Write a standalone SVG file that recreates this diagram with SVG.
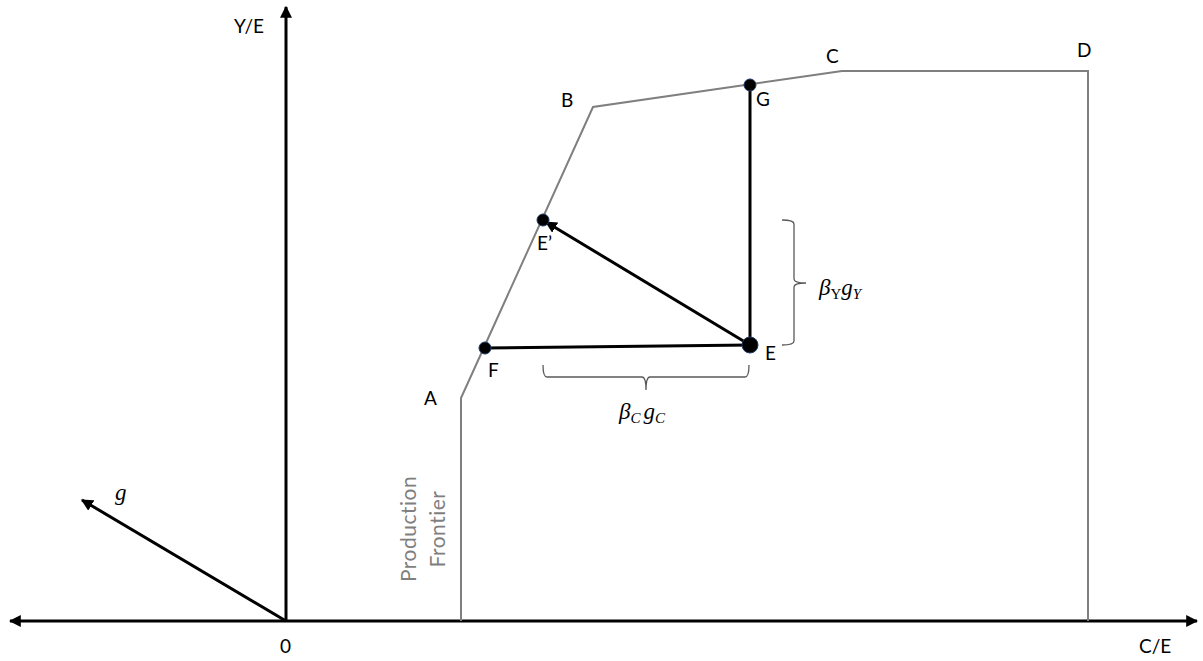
<svg xmlns="http://www.w3.org/2000/svg" width="1203" height="661" viewBox="0 0 1203 661">
<style>
.lbl{font-family:Lato,"Open Sans","Liberation Sans",sans-serif;font-size:19px;fill:#000}
.pf{font-family:Lato,"Open Sans","Liberation Sans",sans-serif;font-size:21px;fill:#7f7f7f;letter-spacing:0.5px}
.math{font-family:"Liberation Serif","DejaVu Serif",serif;font-style:italic;fill:#000}
.axis{stroke:#000;stroke-width:3;fill:none}
.thick{stroke:#000;stroke-width:3;fill:none}
.frontier{stroke:#7f7f7f;stroke-width:2;fill:none}
.brace{stroke:#595959;stroke-width:1.3;fill:none}
.dot{fill:#000;stroke:#1f3864;stroke-width:1}
</style>
<defs>
<marker id="ah" viewBox="0 0 10 10" refX="9" refY="5" markerWidth="4" markerHeight="4" orient="auto-start-reverse" markerUnits="strokeWidth">
<path d="M0,0 L10,5 L0,10 z" fill="#000"/>
</marker>
</defs>
<g id="connectors">
<line class="axis" x1="10" y1="621" x2="1197" y2="621" marker-start="url(#ah)" marker-end="url(#ah)"/>
<line class="axis" x1="286" y1="621" x2="286" y2="7" marker-end="url(#ah)"/>
<line class="thick" x1="286" y1="621" x2="82" y2="500" marker-end="url(#ah)"/>
<polyline class="frontier" points="461,621 461,398 593,107 842,71 1088,71 1088,621"/>
<line class="thick" x1="485" y1="348" x2="750" y2="345"/>
<line class="thick" x1="750" y1="345" x2="750" y2="85"/>
<line class="thick" x1="750" y1="345" x2="546" y2="222" marker-end="url(#ah)"/>
<path class="brace" d="M782,220 Q794,220 794,224 L794,279 Q794,283 806,283 Q794,283 794,287 L794,341 Q794,345 782,345"/>
<path class="brace" d="M543,365 Q543,377 547,377 L642,377 Q646,377 646,390 Q646,377 650,377 L745,377 Q749,377 749,365"/>
</g>
<g id="node-F"><circle class="dot" cx="485" cy="348" r="6"/><text class="lbl" x="488" y="377">F</text></g>
<g id="node-E"><circle class="dot" cx="750" cy="345" r="8"/><text class="lbl" x="765" y="360">E</text></g>
<g id="node-G"><circle class="dot" cx="750" cy="85" r="6"/><text class="lbl" x="756" y="106">G</text></g>
<g id="node-Eprime"><circle class="dot" cx="543" cy="220" r="6"/><text class="lbl" x="537" y="250">E’</text></g>
<g id="node-A"><text class="lbl" x="424" y="405">A</text></g>
<g id="node-B"><text class="lbl" x="561" y="107">B</text></g>
<g id="node-C"><text class="lbl" x="826" y="63">C</text></g>
<g id="node-D"><text class="lbl" x="1077" y="57">D</text></g>
<g id="labels">
<text class="lbl" x="234" y="33">Y/E</text>
<text class="lbl" x="280" y="653">0</text>
<text class="lbl" x="1139" y="653">C/E</text>
<text class="math" x="115" y="500" font-size="23">g</text>
<text class="math" x="819" y="295" font-size="23">β<tspan font-size="15" dy="4" font-style="normal">Y</tspan><tspan dy="-4">g</tspan><tspan font-size="15" dy="4">Y</tspan></text>
<text class="math" x="619" y="419" font-size="23">β<tspan font-size="15" dy="4">C</tspan><tspan dy="-4" dx="3">g</tspan><tspan font-size="15" dy="4">C</tspan></text>
<g transform="translate(416,529) rotate(-90)">
<text class="pf" text-anchor="middle" x="0" y="0">Production</text>
<text class="pf" text-anchor="middle" x="0" y="29">Frontier</text>
</g>
</g>
</svg>
